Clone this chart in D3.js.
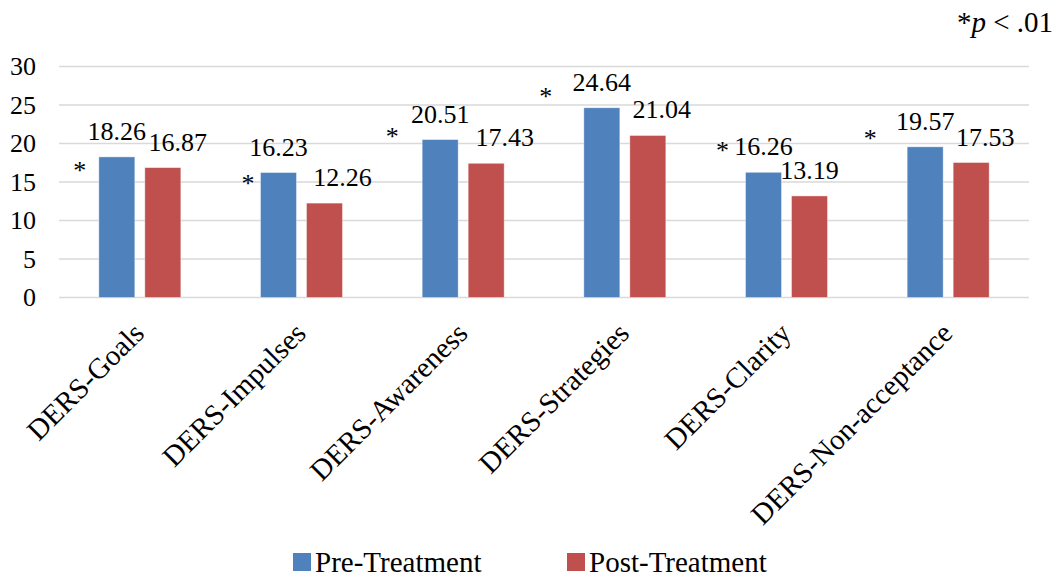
<!DOCTYPE html>
<html>
<head>
<meta charset="utf-8">
<script src="https://cdn.jsdelivr.net/npm/d3@7"></script>
<style>
  html, body { margin: 0; padding: 0; background: #fff; }
  svg { display: block; }
</style>
</head>
<body>
<svg id="chart" width="1055" height="577"></svg>
<script>
// ---- data ----
const categories = ["DERS-Goals", "DERS-Impulses", "DERS-Awareness", "DERS-Strategies", "DERS-Clarity", "DERS-Non-acceptance"];
const seriesNames = ["Pre-Treatment", "Post-Treatment"];
const preValues  = [18.26, 16.23, 20.51, 24.64, 16.26, 19.57];
const postValues = [16.87, 12.26, 17.43, 21.04, 13.19, 17.53];
const significant = [true, true, true, true, true, true];
const yTicks = [0, 5, 10, 15, 20, 25, 30];
const noteText = "p < .01";

// ---- annotation layout (hand-placed items in the original) ----
const asteriskLevel = [16.95, 15.26, 21.36, 26.56, 19.55, 21.1]; // in value units
const asteriskDx    = [-19, -12.5, -30, -38, -23, -37];           // px from pre bar left
const postLabelDx   = [15, 18, 18.5, 14, 0, 14];

// ---- layout ----
const FONT = '"Liberation Serif", Tinos, "Times New Roman", serif';
const colors = ["#4F81BD", "#C0504D"];
const svg = d3.select("#chart").attr("font-family", FONT);
const plot = { left: 59, right: 1029, top: 66.5, bottom: 297.5 };

const x0 = d3.scaleBand().domain(categories).range([plot.left, plot.right]).paddingInner(0).paddingOuter(0);
const x1 = d3.scaleBand().domain(seriesNames)
  .range([x0.bandwidth() / 2 - 41, x0.bandwidth() / 2 + 41])
  .paddingInner(0.2174).paddingOuter(0);
const y = d3.scaleLinear().domain([0, 30]).range([plot.bottom, plot.top]);

// gridlines
svg.append("g").selectAll("line").data(yTicks).join("line")
  .attr("x1", plot.left).attr("x2", plot.right)
  .attr("y1", d => y(d)).attr("y2", d => y(d))
  .attr("stroke", "#D9D9D9").attr("stroke-width", 1.3);

// y axis labels
const yAxis = d3.axisLeft(y).tickValues(yTicks).tickSize(0).tickPadding(0);
const gy = svg.append("g").attr("transform", `translate(36,0)`).call(yAxis);
gy.attr("font-family", null).attr("font-size", null);
gy.select(".domain").remove();
gy.selectAll("text").style("font-family", FONT).style("font-size", "26px").attr("fill", "#000");

// bars
const data = categories.map((c, i) => ({ cat: c, i, vals: [preValues[i], postValues[i]] }));
const groups = svg.append("g").selectAll("g").data(data).join("g")
  .attr("transform", d => `translate(${x0(d.cat)},0)`);

groups.selectAll("rect").data(d => d.vals.map((v, k) => ({ v, k, s: seriesNames[k] }))).join("rect")
  .attr("x", d => x1(d.s))
  .attr("width", x1.bandwidth())
  .attr("y", d => y(d.v))
  .attr("height", d => y(0) - y(d.v))
  .attr("fill", d => colors[d.k])
  .attr("stroke", "#ffffff").attr("stroke-opacity", 0.5).attr("stroke-width", 0.8);

// value labels
groups.selectAll("text.val").data(d => d.vals.map((v, k) => ({ v, k, s: seriesNames[k], i: d.i }))).join("text")
  .attr("class", "val")
  .attr("x", d => x1(d.s) + x1.bandwidth() / 2 + (d.k === 1 ? postLabelDx[d.i] : 0))
  .attr("y", d => y(d.v) - 17)
  .attr("text-anchor", "middle")
  .style("font-family", FONT)
  .style("font-size", "26px")
  .attr("fill", "#000")
  .text(d => d.v.toFixed(2));

// asterisks
groups.filter(d => significant[d.i]).append("text")
  .attr("x", d => x1(seriesNames[0]) + asteriskDx[d.i])
  .attr("y", d => y(asteriskLevel[d.i]) + 12)
  .attr("text-anchor", "middle")
  .style("font-family", FONT)
  .style("font-size", "26px")
  .attr("fill", "#000")
  .text("*");

// category labels
svg.append("g").selectAll("text").data(categories).join("text")
  .attr("transform", d => `translate(${x0(d) + x0.bandwidth() / 2 + 6},335) rotate(-45)`)
  .attr("text-anchor", "end")
  .style("font-family", FONT)
  .style("font-size", "29px")
  .attr("fill", "#000")
  .text(d => d);

// note
const note = svg.append("text").attr("x", 1053).attr("y", 32).attr("text-anchor", "end")
  .style("font-family", FONT).style("font-size", "29px").attr("fill", "#000");
note.append("tspan").text("*");
note.append("tspan").style("font-style", "italic").text(noteText.split(" ")[0]);
note.append("tspan").text(" " + noteText.split(" ").slice(1).join(" "));

// legend
const legendX = [293, 567];
const lg = svg.append("g").selectAll("g").data(seriesNames).join("g")
  .attr("transform", (d, i) => `translate(${legendX[i]},0)`);
lg.append("rect").attr("x", 0).attr("y", 553).attr("width", 18).attr("height", 18)
  .attr("fill", (d, i) => colors[i]);
lg.append("text").attr("x", 22).attr("y", 572)
  .style("font-family", FONT).style("font-size", "29px").attr("fill", "#000").text(d => d);
</script>
</body>
</html>
